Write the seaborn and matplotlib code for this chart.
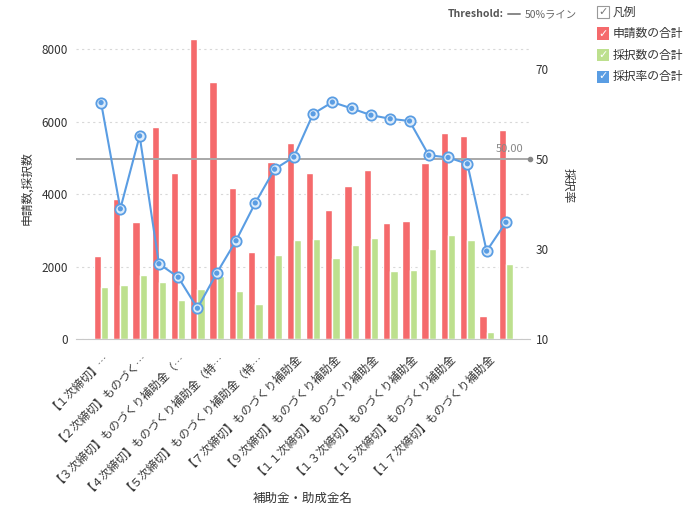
import numpy as np
import pandas as pd
import matplotlib
matplotlib.use('Agg')
import matplotlib.pyplot as plt
import seaborn as sns
from matplotlib.patches import Rectangle

sns.set_style('white')
plt.rcParams['font.family'] = ['Noto Sans CJK JP', 'DejaVu Sans']

# データ
shinsei = [2298, 3862, 3236, 5857, 4579, 8293, 7107, 4183, 2417, 4883, 5415,
           4588, 3558, 4229, 4671, 3208, 3272, 4872, 5691, 5609, 643, 5774]
saitaku = [1451, 1506, 1782, 1581, 1084, 1396, 1746, 1341, 982, 2334, 2739,
           2767, 2243, 2593, 2795, 1892, 1912, 2483, 2869, 2739, 201, 2077]
ritsu = [62.6, 39.0, 55.2, 26.8, 23.8, 16.9, 24.7, 31.9, 40.3, 47.8, 50.5,
         60.1, 62.7, 61.3, 59.8, 59.0, 58.5, 50.9, 50.4, 49.0, 29.6, 36.0]
tick_labels = ['【１次締切】…', '【２次締切】ものづく…', '【３次締切】ものづくり補助金（…',
               '【４次締切】ものづくり補助金（特…', '【５次締切】ものづくり補助金（特…',
               '【７次締切】ものづくり補助金', '【９次締切】ものづくり補助金',
               '【１１次締切】ものづくり補助金', '【１３次締切】ものづくり補助金',
               '【１５次締切】ものづくり補助金', '【１７次締切】ものづくり補助金']
threshold = 50

red = '#f56a6c'
green = '#bde08e'
blue = '#5a9de3'
grey_txt = '#333333'

n = len(shinsei)
idx = np.arange(n)
df = pd.DataFrame({'cat': np.concatenate([idx, idx]),
                   'value': shinsei + saitaku,
                   'series': ['申請数の合計'] * n + ['採択数の合計'] * n})

fig = plt.figure(figsize=(6.86, 5.07), dpi=100)
ax = fig.add_axes([76 / 686, 1 - 339.3 / 507, (530 - 76) / 686, (339.3 - 31) / 507])

sns.barplot(data=df, x='cat', y='value', hue='series', palette=[red, green],
            width=0.76, gap=0, saturation=1, ax=ax, legend=False)
ax.set_xlim(-1.3, 22.25)
ax.set_ylim(0, 8500)
ax.set_yticks([0, 2000, 4000, 6000, 8000])
ax.yaxis.grid(True, linestyle=(0, (2, 3)), color='#d8d8d8', linewidth=0.8)
ax.set_axisbelow(True)
for s in ['top', 'right', 'left']:
    ax.spines[s].set_visible(False)
ax.spines['bottom'].set_color('#c8c8c8')
ax.tick_params(axis='y', length=0, labelsize=8.5, labelcolor=grey_txt, pad=6)
ax.set_xticks(idx[::2])
ax.set_xticklabels(tick_labels, rotation=45, ha='right', rotation_mode='anchor',
                   fontsize=8.2, color=grey_txt)
ax.tick_params(axis='x', length=0, pad=6)
ax.set_xlabel('補助金・助成金名', fontsize=9, color=grey_txt, va='center')
ax.xaxis.set_label_coords(0.5, -0.515)
ax.set_ylabel('申請数,採択数', fontsize=8.5, color=grey_txt, va='center')
ax.yaxis.set_label_coords(-0.108, 0.49)

ax2 = ax.twinx()
ax2.set_ylim(10, 78.5)
ax2.set_yticks([10, 30, 50, 70])
for s in ['top', 'right', 'left', 'bottom']:
    ax2.spines[s].set_visible(False)
ax2.tick_params(axis='y', length=0, labelsize=8.5, labelcolor=grey_txt, pad=4)
ax2.set_ylabel('採択率', fontsize=8.5, color=grey_txt, rotation=-90, va='center')
ax2.yaxis.set_label_coords(1.085, 0.5)

# 閾値ライン
ax2.axhline(threshold, color='#a8a8a8', linewidth=1.4, zorder=2)
ax2.plot([22.25], [threshold], 'o', color='#888888', markersize=3, clip_on=False, zorder=3)
ax2.text(21.9, threshold + 1.2, f'{threshold:.2f}', ha='right', va='bottom',
         fontsize=8, color='#888888')

sns.lineplot(x=idx, y=ritsu, ax=ax2, color=blue, linewidth=1.5, zorder=4)
sns.scatterplot(x=idx, y=ritsu, ax=ax2, s=55, color='#dcebfa', edgecolor=blue,
                linewidth=1.3, zorder=5)
sns.scatterplot(x=idx, y=ritsu, ax=ax2, s=14, color=blue, edgecolor='none', zorder=6)

# 上部の Threshold 表示
fig.text(448 / 686, 1 - 14 / 507, 'Threshold:', fontsize=7.5, fontweight='bold',
         color='#555555', va='center')
fig.add_artist(plt.Line2D([508 / 686, 520 / 686], [1 - 14 / 507] * 2,
                          color='#888888', linewidth=1.4))
fig.text(525 / 686, 1 - 14 / 507, '50%ライン', fontsize=7.5, color='#666666', va='center')

# 凡例
items = [('凡例', None), ('申請数の合計', red), ('採択数の合計', green), ('採択率の合計', blue)]
for i, (lab, col) in enumerate(items):
    yc = 12 + i * 21.5
    x0, sz = 597, 12
    if col is None:
        fig.add_artist(Rectangle((x0 / 686, 1 - (yc + sz / 2) / 507), sz / 686, sz / 507,
                                 facecolor='white', edgecolor='#999999', linewidth=0.8))
        ccol = '#777777'
    else:
        fig.add_artist(Rectangle((x0 / 686, 1 - (yc + sz / 2) / 507), sz / 686, sz / 507,
                                 facecolor=col, edgecolor='none'))
        ccol = 'white'
    fig.text((x0 + sz / 2) / 686, 1 - yc / 507, '✓', fontsize=8, color=ccol,
             ha='center', va='center', family='DejaVu Sans')
    fig.text(613 / 686, 1 - yc / 507, lab, fontsize=8.5, color='#333333', va='center')

fig.savefig('out.png', dpi=100)
